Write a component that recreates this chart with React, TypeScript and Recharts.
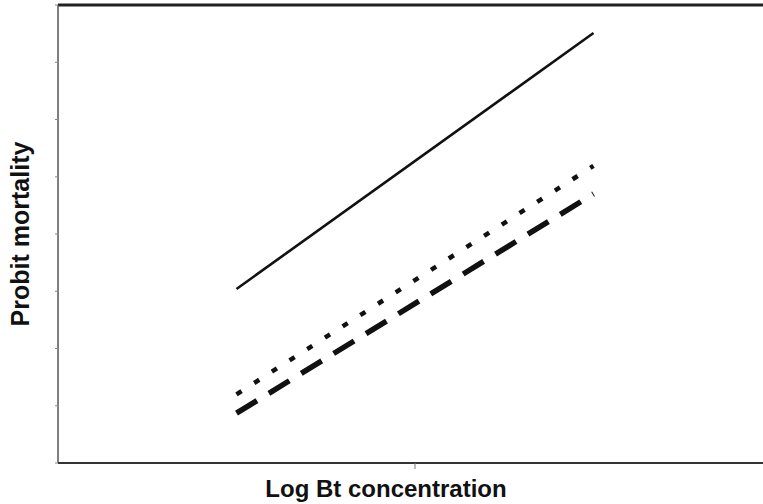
import React from "react";
import { LineChart, Line, XAxis, YAxis, ReferenceLine, Label } from "recharts";

// log concentration endpoints (x) and probit values per line
const logConc = [0.5, 1.5];
const solidLine = [3.04, 7.51];
const dottedLine = [1.2, 5.19];
const dashedLine = [0.87, 4.7];
const yTicks = [0, 1, 2, 3, 4, 5, 6, 7, 8];
const xTicks = [1];

const data = logConc.map((x, i) => ({
    x,
    solid: solidLine[i],
    dotted: dottedLine[i],
    dashed: dashedLine[i],
}));

const labelStyle = { fontFamily: "'Liberation Sans', Arial, sans-serif", fontWeight: 700, fontSize: 24, fill: "#111" };

const App = () => {
    return (
        <div style={{ position: "fixed", left: 0, top: 0, width: 763, height: 504, background: "#fff" }}>
            <LineChart width={763} height={504} data={data} margin={{ top: 5, right: -9, bottom: 0, left: 0 }}>
                <XAxis
                    dataKey="x"
                    type="number"
                    domain={[0, 2]}
                    ticks={xTicks}
                    tick={{ fontSize: 0 }}
                    tickFormatter={() => ""}
                    tickSize={6}
                    height={41}
                    axisLine={{ stroke: "#333", strokeWidth: 2 }}
                    tickLine={{ stroke: "#777", strokeWidth: 1 }}
                >
                    <Label value="Log Bt concentration" position="insideBottom" offset={7} dx={-29} style={labelStyle} />
                </XAxis>
                <YAxis
                    type="number"
                    domain={[0, 8]}
                    ticks={yTicks}
                    tick={{ fontSize: 0 }}
                    tickFormatter={() => ""}
                    tickSize={3}
                    width={58}
                    axisLine={{ stroke: "#555", strokeWidth: 1.5 }}
                    tickLine={{ stroke: "#888", strokeWidth: 1 }}
                >
                    <Label value="Probit mortality" angle={-90} position="insideLeft" offset={20} dx={0} style={{ ...labelStyle, fontSize: 25, textAnchor: "middle" }} />
                </YAxis>
                <ReferenceLine y={8} stroke="#222" strokeWidth={3} />
                <Line type="linear" dataKey="solid" stroke="#111" strokeWidth={2.6} dot={false} isAnimationActive={false} />
                <Line type="linear" dataKey="dotted" stroke="#111" strokeWidth={4.5} strokeDasharray="6 15" dot={false} isAnimationActive={false} />
                <Line type="linear" dataKey="dashed" stroke="#111" strokeWidth={5.5} strokeDasharray="24 14" dot={false} isAnimationActive={false} />
            </LineChart>
        </div>
    );
};

export default App;
